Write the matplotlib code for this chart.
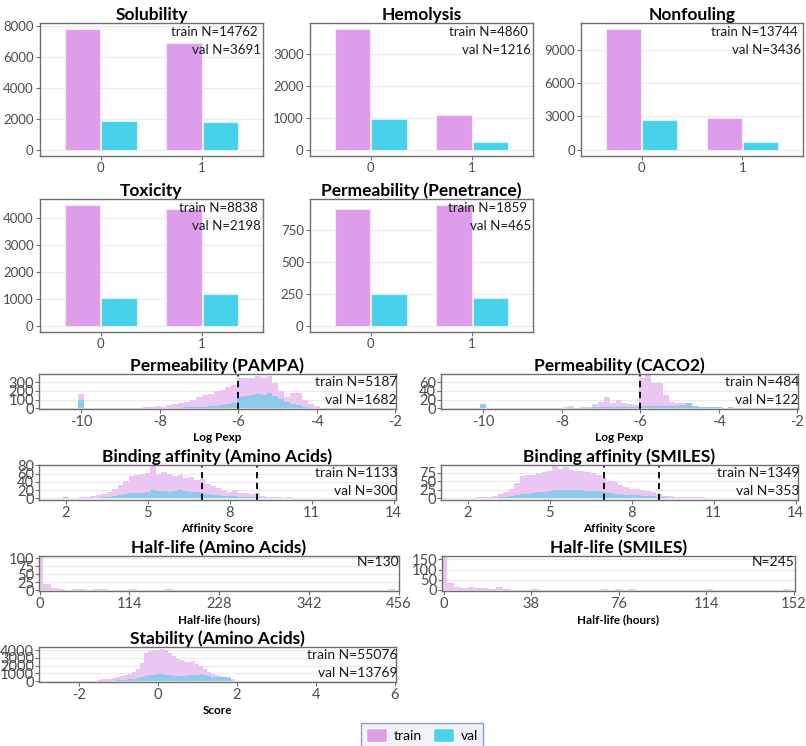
import numpy as np
import matplotlib
matplotlib.use("Agg")
import matplotlib.pyplot as plt
from matplotlib.patches import Patch

plt.rcParams['font.family'] = ['Lato', 'DejaVu Sans']
plt.rcParams['axes.unicode_minus'] = False

# --- data: bar charts (class 0 / class 1) ---
bar_titles = ['Solubility', 'Hemolysis', 'Nonfouling', 'Toxicity', 'Permeability (Penetrance)']
bar_train = [[7820, 6942], [3780, 1080], [10840, 2904], [4500, 4338], [916, 943]]
bar_val = [[1880, 1811], [965, 251], [2700, 736], [1025, 1173], [247, 218]]
bar_train_n = [14762, 4860, 13744, 8838, 1859]
bar_val_n = [3691, 1216, 3436, 2198, 465]
bar_yticks = [[0, 2000, 4000, 6000, 8000], [0, 1000, 2000, 3000], [0, 3000, 6000, 9000],
              [0, 1000, 2000, 3000, 4000], [0, 250, 500, 750]]
classes = ['0', '1']

# --- data: histograms (counts per bin) ---
# permeability bins: start -10, width 0.15
pampa_train = [160, 0, 0, 0, 0, 0, 4, 0, 5, 6, 8, 10, 14, 22, 20, 35, 45, 58, 75, 100, 135,
               158, 165, 200, 215, 245, 270, 350, 352, 345, 372, 350, 370,
               290, 200, 135, 180, 178, 100, 55, 22, 6, 0]
pampa_val = [96, 0, 0, 0, 0, 0, 0, 0, 0, 2, 0, 3, 0, 4, 3, 5, 6, 8, 10, 12, 15,
             18, 22, 28, 35, 45, 60, 130, 145, 155, 160, 150, 180,
             140, 110, 70, 45, 35, 15, 8, 3, 1, 0]
caco2_train = [0, 0, 0, 0, 0, 0, 0, 0, 0, 0, 0, 0, 0, 0, 2, 5, 1, 2, 3, 9, 15,
               27, 12, 19, 12, 9, 8, 69, 76, 58, 58, 31, 15,
               12, 12, 8, 5, 3, 2, 2, 1, 0, 0]
caco2_val = [10, 0, 0, 0, 0, 0, 0, 0, 0, 0, 0, 0, 0, 1, 0, 1, 0, 1, 1, 2, 2,
             2, 2, 3, 3, 3, 4, 5, 6, 6, 6, 6, 6,
             6, 7, 13, 5, 4, 4, 3, 2, 1, 2]
# binding affinity bins: start 2.0, width 0.2
bind_aa_train = [1, 0, 2, 3, 4, 5, 8, 10, 15, 22, 32, 42, 55, 56, 60, 62, 80, 60, 65, 58,
                 55, 57, 50, 52, 45, 48, 34, 30, 25, 20, 15, 20, 12, 14, 10, 12, 6, 4, 3, 3,
                 2, 3, 2, 2, 1, 2, 1, 2, 1, 1, 2, 1, 1]
bind_aa_val = [3, 0, 0, 1, 1, 1, 2, 3, 4, 6, 8, 10, 12, 13, 14, 15, 20, 17, 18, 16,
               18, 20, 17, 16, 15, 14, 10, 9, 8, 6, 5, 6, 4, 4, 3, 3, 2, 1, 1, 1,
               1, 1, 0, 1, 0, 1, 0, 0, 1, 0, 1, 0, 0]
bind_sm_train = [1, 0, 3, 4, 5, 8, 12, 18, 26, 45, 67, 68, 70, 75, 76, 80, 95, 85, 92, 82,
                 80, 80, 78, 75, 70, 60, 52, 48, 40, 32, 28, 27, 25, 22, 18, 12, 8, 7, 5, 4,
                 3, 4, 4, 3, 2, 2, 1, 2, 1, 1, 2, 1, 0]
bind_sm_val = [2, 0, 0, 1, 1, 2, 3, 4, 6, 9, 12, 14, 16, 18, 20, 22, 24, 25, 24, 25,
               24, 23, 22, 22, 21, 20, 15, 12, 12, 10, 10, 9, 8, 7, 6, 5, 3, 2, 2, 1,
               2, 1, 1, 1, 0, 1, 0, 0, 0, 0, 1, 0, 0]
# half-life bins: start 0, width 456/50 and 152/50
hl_aa_train = [105, 18, 8, 4, 1, 2, 2, 0, 2, 2, 0, 0, 0, 2, 0, 0, 0, 0, 2, 0,
               0, 0, 0, 0, 0, 0, 0, 0, 0, 0, 0, 0, 0, 0, 0, 0, 0, 0, 0, 0,
               0, 0, 0, 0, 0, 0, 0, 0, 0, 2, 0]
hl_sm_train = [160, 36, 13, 10, 16, 8, 8, 7, 13, 6, 0, 0, 0, 5, 0, 0, 0, 0, 0, 0,
               0, 0, 0, 6, 0, 6, 0, 6, 0, 0, 0, 0, 0, 0, 0, 0, 0, 0, 5, 0,
               0, 0, 0, 0, 0, 0, 0, 0, 0, 6, 0]
# stability bins: start -1.5, width 0.1
stab_train = [100, 200, 250, 320, 420, 520, 600, 750, 950, 1200, 1600, 2300, 3600, 3900,
              4000, 4100, 4150, 4050, 3600, 3300, 2900, 2700, 2500, 2450, 2550, 2250,
              1900, 1550, 1200, 900, 750, 600, 550, 500, 250, 60]
stab_val = [10, 20, 30, 40, 60, 80, 110, 150, 200, 270, 380, 520, 680, 760, 820, 860,
            850, 800, 740, 680, 650, 660, 700, 740, 780, 820, 850, 760, 620, 520, 480,
            470, 460, 440, 0, 0]

C_TRAIN = '#DD9DEA'
C_VAL = '#48D1EA'
H_TRAIN = '#EBC6F3'
H_VAL = '#8ECBEB'
GRID = '#EBEBEB'
SPINE = '#6E6E6E'
TICKC = '#4D4D4D'

W, H = 806, 746
fig = plt.figure(figsize=(W / 100, H / 100), dpi=100)


def px_axes(l, t, r, b):
    return fig.add_axes([l / W, 1 - b / H, (r - l) / W, (b - t) / H])


def style(ax, fs):
    for s in ax.spines.values():
        s.set_color(SPINE)
        s.set_linewidth(1.0)
    ax.tick_params(colors=SPINE, labelcolor=TICKC, labelsize=fs, length=3, width=0.8, pad=1.5)
    ax.yaxis.grid(True, color=GRID, linewidth=0.9)
    ax.set_axisbelow(True)


# --- bar charts ---
bar_boxes = [(40, 23, 263, 156), (310, 23, 533, 156), (581, 23, 803, 156),
             (40, 199, 263, 332), (310, 199, 533, 332)]
for i, box in enumerate(bar_boxes):
    ax = px_axes(*box)
    x = np.arange(len(classes))
    ax.bar(x - 0.18, bar_train[i], width=0.35, color=C_TRAIN, edgecolor='#F6E6F9', linewidth=0.8)
    ax.bar(x + 0.18, bar_val[i], width=0.35, color=C_VAL, edgecolor='#D6F4FA', linewidth=0.8)
    m = max(bar_train[i] + bar_val[i])
    ax.set_ylim(-0.05 * m, 1.05 * m)
    ax.set_xlim(-0.6, 1.6)
    ax.set_xticks(x)
    ax.set_xticklabels(classes)
    ax.set_yticks(bar_yticks[i])
    style(ax, 9.5)
    ax.set_title(bar_titles[i], fontsize=12.5, fontweight='bold', pad=1.5)
    ax.text(0.975, 0.93, f'train N={bar_train_n[i]}', transform=ax.transAxes,
            ha='right', va='center', fontsize=9.5, color='#1a1a1a')
    ax.text(0.99, 0.80, f'val N={bar_val_n[i]}', transform=ax.transAxes,
            ha='right', va='center', fontsize=9.5, color='#1a1a1a')

# --- histograms ---
hists = [
    dict(box=(39, 374, 396, 409), title='Permeability (PAMPA)', train=pampa_train, val=pampa_val,
         start=-10.0, bw=0.15, xlim=(-11.07, -1.98), ylim=(-8, 396), xt=[-10, -8, -6, -4, -2],
         yt=[0, 100, 200, 300], xlabel='Log Pexp', vlines=[-6], n=(5187, 1682)),
    dict(box=(441, 374, 798, 409), title='Permeability (CACO2)', train=caco2_train, val=caco2_val,
         start=-10.0, bw=0.15, xlim=(-11.07, -1.98), ylim=(-1.5, 79), xt=[-10, -8, -6, -4, -2],
         yt=[0, 20, 40, 60], xlabel='Log Pexp', vlines=[-6], n=(484, 122)),
    dict(box=(39, 465, 396, 500), title='Binding affinity (Amino Acids)', train=bind_aa_train,
         val=bind_aa_val, start=2.0, bw=0.2, xlim=(1.02, 14.09), ylim=(-4, 81),
         xt=[2, 5, 8, 11, 14], yt=[0, 20, 40, 60, 80], xlabel='Affinity Score', vlines=[7, 9],
         n=(1133, 300)),
    dict(box=(441, 465, 798, 500), title='Binding affinity (SMILES)', train=bind_sm_train,
         val=bind_sm_val, start=2.0, bw=0.2, xlim=(1.02, 14.09), ylim=(-5, 98),
         xt=[2, 5, 8, 11, 14], yt=[0, 25, 50, 75], xlabel='Affinity Score', vlines=[7, 9],
         n=(1349, 353)),
    dict(box=(39, 556, 399, 591), title='Half-life (Amino Acids)', train=hl_aa_train, val=None,
         start=0.0, bw=456 / 50, xlim=(-1, 456.5), ylim=(-3, 107), xt=[0, 114, 228, 342, 456],
         yt=[0, 25, 50, 75, 100], xlabel='Half-life (hours)', vlines=[], n=(130,)),
    dict(box=(442, 556, 795, 591), title='Half-life (SMILES)', train=hl_sm_train, val=None,
         start=0.0, bw=152 / 50, xlim=(-0.7, 152.6), ylim=(-5, 167), xt=[0, 38, 76, 114, 152],
         yt=[0, 50, 100, 150], xlabel='Half-life (hours)', vlines=[], n=(245,)),
    dict(box=(39, 647, 396, 682), title='Stability (Amino Acids)', train=stab_train, val=stab_val,
         start=-1.5, bw=0.1, xlim=(-3.01, 6.03), ylim=(-130, 4430), xt=[-2, 0, 2, 4, 6],
         yt=[0, 1000, 2000, 3000, 4000], xlabel='Score', vlines=[], n=(55076, 13769)),
]

for h in hists:
    ax = px_axes(*h['box'])
    centers = h['start'] + h['bw'] * np.arange(len(h['train']))
    ax.bar(centers, h['train'], width=h['bw'], color=H_TRAIN, linewidth=0)
    if h['val'] is not None:
        ax.bar(centers, h['val'], width=h['bw'], color=H_VAL, linewidth=0)
    for v in h['vlines']:
        ax.axvline(v, color='black', linestyle=(0, (3.5, 2.5)), linewidth=1.3)
    ax.set_xlim(*h['xlim'])
    ax.set_ylim(*h['ylim'])
    ax.set_xticks(h['xt'])
    ax.set_yticks(h['yt'])
    style(ax, 10.5)
    ax.tick_params(axis='y', pad=0.5)
    ax.set_title(h['title'], fontsize=12.5, fontweight='bold', pad=1)
    ax.set_xlabel(h['xlabel'], fontsize=8.5, fontweight='bold', labelpad=2)
    if len(h['n']) == 2:
        ax.text(1.003, 0.77, f"train N={h['n'][0]}", transform=ax.transAxes,
                ha='right', va='center', fontsize=10, color='#1a1a1a')
        ax.text(1.003, 0.26, f"val N={h['n'][1]}", transform=ax.transAxes,
                ha='right', va='center', fontsize=10, color='#1a1a1a')
    else:
        ax.text(1.0, 0.83, f"N={h['n'][0]}", transform=ax.transAxes,
                ha='right', va='center', fontsize=10, color='#1a1a1a')

# --- legend ---
handles = [Patch(facecolor=C_TRAIN, edgecolor='white', label='train'),
           Patch(facecolor=C_VAL, edgecolor='white', label='val')]
leg = fig.legend(handles=handles, loc='center', bbox_to_anchor=(422 / W, 1 - 735 / H),
                 ncol=2, frameon=True, fontsize=10, handlelength=1.5, handleheight=1.1,
                 columnspacing=0.8, handletextpad=0.5, borderpad=0.35, fancybox=False)
leg.get_frame().set_facecolor('#EEEEF8')
leg.get_frame().set_edgecolor('#7186C9')
leg.get_frame().set_linewidth(1.0)

fig.savefig('out.png', dpi=100)
